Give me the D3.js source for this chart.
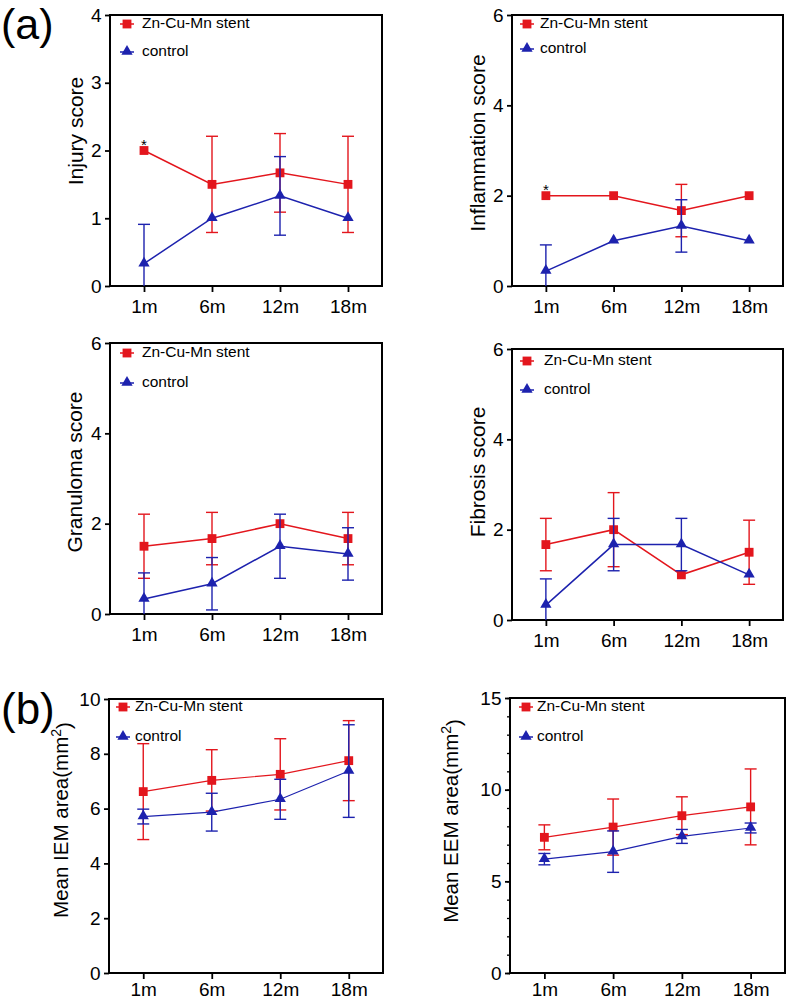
<!DOCTYPE html>
<html>
<head>
<meta charset="utf-8">
<script src="https://cdn.jsdelivr.net/npm/d3@7"></script>
<style>
  body { margin: 0; background: #fff; }
  text { font-family: Arial, "Liberation Sans", sans-serif; fill: #000; }
</style>
</head>
<body>
<div id="chart"></div>
<script>
// time points
const months = ["1m", "6m", "12m", "18m"];
const seriesNames = ["Zn-Cu-Mn stent", "control"];

// (a) injury
const injuryStent = [2.0, 1.5, 1.67, 1.5];
const injuryStentErr = [0, 0.71, 0.58, 0.71];
const injuryControl = [0.33, 1.0, 1.33, 1.0];
const injuryControlErr = [0.58, 0, 0.58, 0];

// (a) inflammation
const inflamStent = [2.0, 2.0, 1.67, 2.0];
const inflamStentErr = [0, 0, 0.58, 0];
const inflamControl = [0.33, 1.0, 1.33, 1.0];
const inflamControlErr = [0.58, 0, 0.58, 0];

// (a) granuloma
const granStent = [1.5, 1.67, 2.0, 1.67];
const granStentErr = [0.71, 0.58, 0, 0.58];
const granControl = [0.33, 0.67, 1.5, 1.33];
const granControlErr = [0.58, 0.58, 0.71, 0.58];

// (a) fibrosis
const fibStent = [1.67, 2.0, 1.0, 1.5];
const fibStentErr = [0.58, 0.82, 0, 0.71];
const fibControl = [0.33, 1.67, 1.67, 1.0];
const fibControlErr = [0.58, 0.58, 0.58, 0];

// (b) IEM area
const iemStent = [6.62, 7.03, 7.25, 7.75];
const iemStentErr = [1.75, 1.12, 1.3, 1.46];
const iemControl = [5.71, 5.87, 6.34, 7.37];
const iemControlErr = [0.27, 0.69, 0.73, 1.69];

// (b) EEM area
const eemStent = [7.4, 7.96, 8.58, 9.06];
const eemStentErr = [0.68, 1.53, 1.03, 2.07];
const eemControl = [6.21, 6.62, 7.45, 7.91];
const eemControlErr = [0.31, 1.13, 0.38, 0.27];

const red = "#e3161d";
const blue = "#1d22ae";

const svg = d3.select("#chart")
  .append("svg")
  .attr("width", 789)
  .attr("height", 1001);

svg.append("text").attr("x", 1).attr("y", 39)
  .style("font-size", "43px").text("(a)");
svg.append("text").attr("x", 1).attr("y", 724)
  .style("font-size", "44px").text("(b)");

const panels = [
  { left: 110, right: 382, top: 15, bottom: 286, max: 4, ticks: [0, 1, 2, 3, 4],
    label: "Injury score", lx: 77, ly: 131, legX: 127, legY: [24, 52], textX: 142,
    stent: injuryStent, stentErr: injuryStentErr, control: injuryControl, controlErr: injuryControlErr,
    star: true, lw: 1.5, pad: 8 },
  { left: 512, right: 783, top: 15, bottom: 286, max: 6, ticks: [0, 2, 4, 6],
    label: "Inflammation score", lx: 479, ly: 143, legX: 527, legY: [24, 49], textX: 540,
    stent: inflamStent, stentErr: inflamStentErr, control: inflamControl, controlErr: inflamControlErr,
    star: true, lw: 1.5, pad: 8 },
  { left: 110, right: 382, top: 343, bottom: 614, max: 6, ticks: [0, 2, 4, 6],
    label: "Granuloma score", lx: 76, ly: 472, legX: 127, legY: [353, 383], textX: 142,
    stent: granStent, stentErr: granStentErr, control: granControl, controlErr: granControlErr,
    star: false, lw: 1.5, pad: 8 },
  { left: 512, right: 783, top: 349, bottom: 620, max: 6, ticks: [0, 2, 4, 6],
    label: "Fibrosis score", lx: 479, ly: 472, legX: 527, legY: [361, 390], textX: 544,
    stent: fibStent, stentErr: fibStentErr, control: fibControl, controlErr: fibControlErr,
    star: false, lw: 1.5, pad: 8 },
  { left: 109, right: 383, top: 699, bottom: 973, max: 10, ticks: [0, 2, 4, 6, 8, 10],
    label: "Mean IEM area(mm", sup: true, lx: 63, ly: 820, legX: 123, legY: [707, 737], textX: 135,
    stent: iemStent, stentErr: iemStentErr, control: iemControl, controlErr: iemControlErr,
    star: false, lw: 1.2, pad: 4 },
  { left: 510, right: 785, top: 698, bottom: 973, max: 15, ticks: [0, 5, 10, 15], minor: true,
    label: "Mean EEM area(mm", sup: true, lx: 453, ly: 821, legX: 526, legY: [707, 737], textX: 537,
    stent: eemStent, stentErr: eemStentErr, control: eemControl, controlErr: eemControlErr,
    star: false, lw: 1.2, pad: 4 }
];

const square = d3.symbol().type(d3.symbolSquare).size(78);
const triangle = d3.symbol().type(d3.symbolTriangle).size(55);

panels.forEach(function (p) {
  const g = svg.append("g");

  const x = d3.scalePoint().domain(months).range([p.left, p.right]).padding(0.5);
  const y = d3.scaleLinear().domain([0, p.max]).range([p.bottom, p.top]);

  // minor ticks
  if (p.minor) {
    g.append("g")
      .attr("transform", "translate(" + p.left + ",0)")
      .call(d3.axisLeft(y).tickValues(d3.range(0, p.max + 1, 1)).tickSize(3).tickFormat(""))
      .call(a => a.select(".domain").remove())
      .selectAll("line").attr("stroke-width", 1.3);
  }

  const yAxis = g.append("g")
    .attr("transform", "translate(" + p.left + ",0)")
    .call(d3.axisLeft(y).tickValues(p.ticks).tickFormat(d3.format("d")).tickSize(5).tickPadding(3.5));
  yAxis.select(".domain").remove();
  yAxis.selectAll("line").attr("stroke-width", 1.8);
  yAxis.selectAll("text").style("font-size", "19px");

  const xAxis = g.append("g")
    .attr("transform", "translate(0," + p.bottom + ")")
    .call(d3.axisBottom(x).tickSize(6).tickPadding(p.pad));
  xAxis.select(".domain").remove();
  xAxis.selectAll("line").attr("stroke-width", 1.8);
  xAxis.selectAll("text").style("font-size", "19px");

  // frame
  g.append("rect")
    .attr("x", p.left).attr("y", p.top)
    .attr("width", p.right - p.left).attr("height", p.bottom - p.top)
    .attr("fill", "none").attr("stroke", "#000").attr("stroke-width", 2);

  // y label
  const lab = g.append("text")
    .attr("transform", "translate(" + p.lx + "," + p.ly + ") rotate(-90)")
    .attr("text-anchor", "middle")
    .attr("dominant-baseline", "middle")
    .style("font-size", p.sup ? "20.5px" : "21px")
    .text(p.label);
  if (p.sup) {
    lab.append("tspan").attr("dy", "-0.45em").style("font-size", "14px").text("2");
    lab.append("tspan").attr("dy", "0.45em").text(")");
  }

  const series = [
    { vals: p.stent, err: p.stentErr, color: red, sym: square },
    { vals: p.control, err: p.controlErr, color: blue, sym: triangle }
  ];

  series.forEach(function (s) {
    const pts = months.map((m, i) => ({ m: m, v: s.vals[i], e: s.err[i] }));

    // error bars
    const eb = g.append("g").attr("stroke", s.color).attr("stroke-width", 1.4);
    pts.filter(d => d.e > 0).forEach(function (d) {
      const lo = Math.max(0, d.v - d.e);
      const hi = d.v + d.e;
      eb.append("line")
        .attr("x1", x(d.m)).attr("x2", x(d.m))
        .attr("y1", y(lo)).attr("y2", y(hi));
      eb.append("line")
        .attr("x1", x(d.m) - 6).attr("x2", x(d.m) + 6)
        .attr("y1", y(hi)).attr("y2", y(hi));
      if (d.v - d.e > 0) {
        eb.append("line")
          .attr("x1", x(d.m) - 6).attr("x2", x(d.m) + 6)
          .attr("y1", y(lo)).attr("y2", y(lo));
      }
    });

    g.append("path")
      .datum(pts)
      .attr("fill", "none")
      .attr("stroke", s.color)
      .attr("stroke-width", p.lw)
      .attr("d", d3.line().x(d => x(d.m)).y(d => y(d.v)));

    g.selectAll(null)
      .data(pts)
      .enter()
      .append("path")
      .attr("d", s.sym)
      .attr("fill", s.color)
      .attr("transform", d => "translate(" + x(d.m) + "," + (y(d.v) + (s.sym === triangle ? -0.5 : 0)) + ")");
  });

  if (p.star) {
    g.append("text")
      .attr("x", x(months[0]))
      .attr("y", y(p.stent[0]) - 1)
      .attr("text-anchor", "middle")
      .style("font-size", "15px")
      .text("*");
  }

  // legend
  const leg = g.append("g");
  [red, blue].forEach(function (c, i) {
    const ly = p.legY[i];
    leg.append("line")
      .attr("x1", p.legX - 7).attr("x2", p.legX + 7)
      .attr("y1", ly).attr("y2", ly)
      .attr("stroke", c).attr("stroke-width", 1.5);
    leg.append("path")
      .attr("d", i === 0 ? square : triangle)
      .attr("fill", c)
      .attr("transform", "translate(" + p.legX + "," + (ly - (i === 1 ? 0.5 : 0)) + ")");
    leg.append("text")
      .attr("x", p.textX)
      .attr("y", ly)
      .attr("dominant-baseline", "middle")
      .style("font-size", "15.5px")
      .text(seriesNames[i]);
  });
});
</script>
</body>
</html>
